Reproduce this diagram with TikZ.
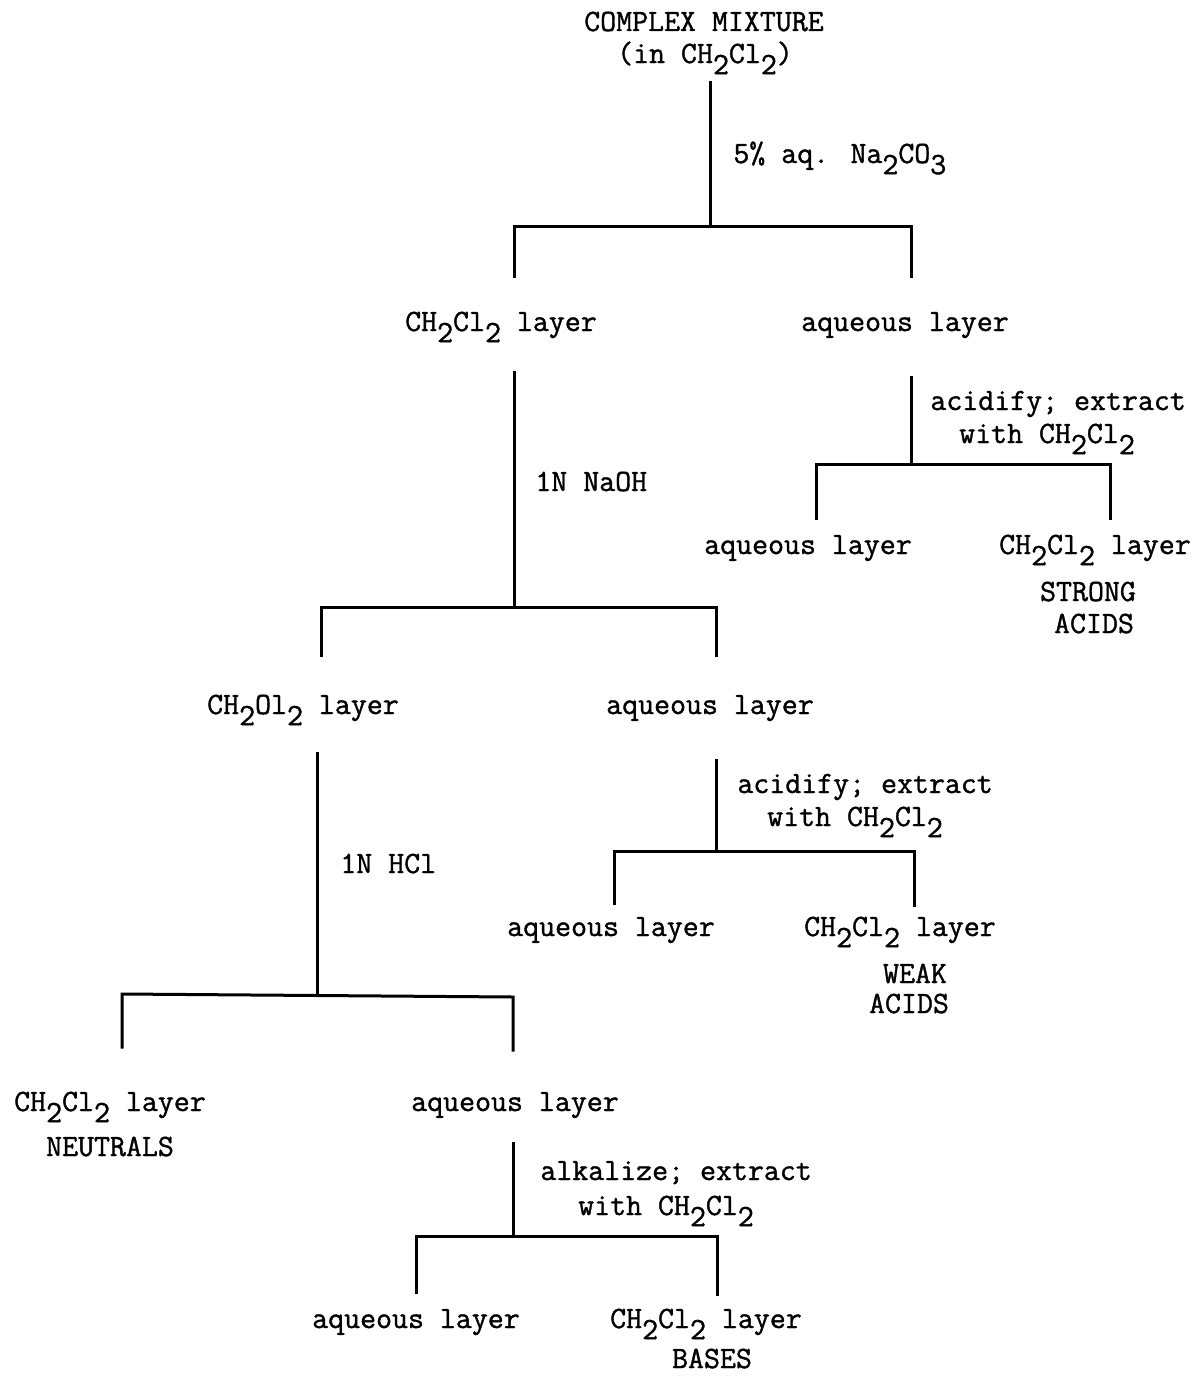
\documentclass[tikz,border=0pt]{standalone}
\usepackage{fontspec}
\setmainfont{Latin Modern Mono}[BoldFont={Latin Modern Mono}, BoldFeatures={FakeBold=1.2}]
\newcommand\dn[1]{\raisebox{-0.36em}{#1}}
\newcommand\chcl{CH\dn{2}Cl\dn{2}}
\begin{document}
\begin{tikzpicture}[x=0.5pt,y=-0.5pt,
  txt/.style={inner sep=0pt, anchor=base, font=\fontsize{15.5}{18}\selectfont\bfseries},
  lbl/.style={txt, anchor=base west},
  ln/.style={line width=1.5pt, line cap=rect}]
\useasboundingbox (0,0) rectangle (1202,1376);

% ---- texts ----
\node[txt] (top1) at (704,31) {COMPLEX MIXTURE};
\node[txt] (top2) at (705,63) {(in \chcl)};
\node[lbl] (r1) at (733,163) {5\% aq. Na\dn{2}CO\dn{3}};

\node[txt] (a1) at (501,331) {\chcl{} layer};
\node[txt] (b1) at (905,331) {aqueous layer};

\node[lbl] (r2a) at (930,410) {acidify; extract};
\node[txt] (r2b) at (1047,443) {with \chcl};
\node[txt] (b1a) at (808,554) {aqueous layer};
\node[txt] (b1b) at (1095,554) {\chcl{} layer};
\node[txt] (b1c) at (1088,601) {STRONG};
\node[txt] (b1d) at (1094,633) {ACIDS};

\node[lbl] (r3) at (535,491) {1N NaOH};
\node[txt] (a2) at (303,714) {CH\dn{2}Ol\dn{2} layer};
\node[txt] (b2) at (710,714) {aqueous layer};

\node[lbl] (r4a) at (737,793) {acidify; extract};
\node[txt] (r4b) at (855,826) {with \chcl};
\node[txt] (b2a) at (611,936) {aqueous layer};
\node[txt] (b2b) at (900,936) {\chcl{} layer};
\node[txt] (b2c) at (915,983) {WEAK};
\node[txt] (b2d) at (909,1013) {ACIDS};

\node[lbl] (r5) at (340,873) {1N HCl};
\node[txt] (a3) at (110,1111) {\chcl{} layer};
\node[txt] (a3b) at (110,1156) {NEUTRALS};
\node[txt] (b3) at (515,1111) {aqueous layer};

\node[lbl] (r6a) at (540,1180) {alkalize; extract};
\node[txt] (r6b) at (666,1215) {with \chcl};
\node[txt] (b3a) at (416,1328) {aqueous layer};
\node[txt] (b3b) at (706,1328) {\chcl{} layer};
\node[txt] (b3c) at (712,1368) {BASES};

% ---- junction coordinates ----
\coordinate (s1) at (710,82);   \coordinate (j1) at (710,226);
\coordinate (j1l) at (514,226); \coordinate (j1r) at (911,226);
\coordinate (e1l) at (514,276); \coordinate (e1r) at (911,276);

\coordinate (s2) at (911,377);  \coordinate (j2) at (911,464);
\coordinate (j2l) at (816,464); \coordinate (j2r) at (1110,464);
\coordinate (e2l) at (816,518); \coordinate (e2r) at (1110,518);

\coordinate (s3) at (514,372);  \coordinate (j3) at (514,607);
\coordinate (j3l) at (321,607); \coordinate (j3r) at (716,607);
\coordinate (e3l) at (321,655); \coordinate (e3r) at (716,655);

\coordinate (s4) at (716,760);  \coordinate (j4) at (716,851);
\coordinate (j4l) at (614,851); \coordinate (j4r) at (914,851);
\coordinate (e4l) at (614,903); \coordinate (e4r) at (914,905);

\coordinate (s5) at (317,753);  \coordinate (j5) at (317,995);
\coordinate (j5l) at (122,994); \coordinate (j5r) at (513,997);
\coordinate (e5l) at (122,1047); \coordinate (e5r) at (513,1050);

\coordinate (s6) at (513,1143); \coordinate (j6) at (513,1236);
\coordinate (j6l) at (416,1236); \coordinate (j6r) at (717,1236);
\coordinate (e6l) at (416,1292); \coordinate (e6r) at (717,1294);

% ---- connectors ----
\foreach \k in {1,...,6}{
  \draw[ln] (s\k) -- (j\k);
  \draw[ln] (e\k l) -- (j\k l) -- (j\k r) -- (e\k r);
}
\end{tikzpicture}
\end{document}
